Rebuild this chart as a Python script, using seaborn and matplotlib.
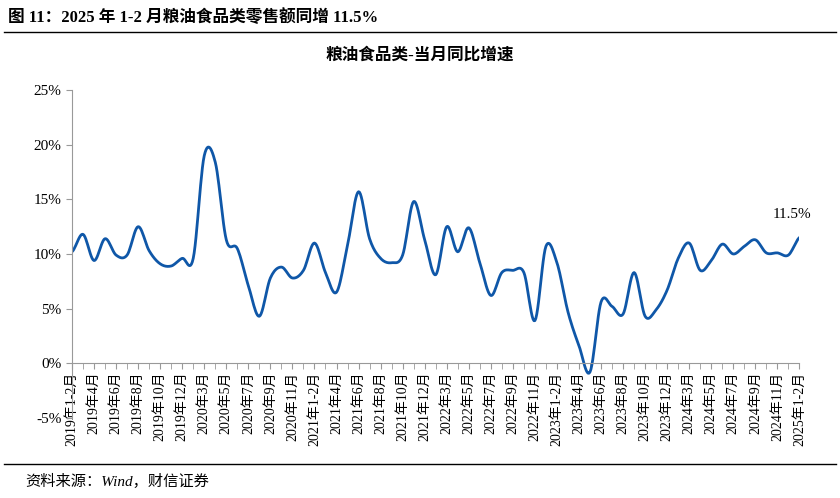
import numpy as np
import pandas as pd
import matplotlib
matplotlib.use("Agg")
import matplotlib.pyplot as plt
import seaborn as sns

plt.rcParams["font.family"] = ["Liberation Serif", "Noto Sans CJK SC"]

# months: Jan-Feb combined each year
months = []
for y in range(2019, 2025):
    months.append(f"{y}年1-2月")
    for m in range(3, 13):
        months.append(f"{y}年{m}月")
months.append("2025年1-2月")

values = [10.2, 11.8, 9.4, 11.4, 9.9, 9.9, 12.5, 10.3, 9.1, 8.9, 9.6,
          9.6, 19.0, 18.4, 11.3, 10.5, 7.1, 4.3, 7.8, 8.8, 7.8, 8.5,
          11.0, 8.3, 6.5, 10.8, 15.7, 11.4, 9.6, 9.2, 9.9, 14.8, 11.3,
          8.1, 12.5, 10.2, 12.4, 9.2, 6.2, 8.3, 8.5, 8.3, 3.9, 10.7,
          9.2, 4.7, 1.6, -0.8, 5.6, 5.2, 4.5, 8.3, 4.3, 4.9, 6.7,
          9.6, 11.0, 8.5, 9.4, 10.9, 10.0, 10.7, 11.3, 10.1, 10.1, 9.9,
          11.5]
yticks = [-5, 0, 5, 10, 15, 20, 25]

# smooth display curve (Catmull-Rom through the data points)
p = np.array(values, dtype=float)
ext = np.concatenate([[p[0]], p, [p[-1]]])
xs, ys = [], []
for i in range(len(p) - 1):
    p0, p1, p2, p3 = ext[i], ext[i + 1], ext[i + 2], ext[i + 3]
    t = np.linspace(0, 1, 12, endpoint=False)
    yv = 0.5 * ((2 * p1) + (-p0 + p2) * t + (2 * p0 - 5 * p1 + 4 * p2 - p3) * t**2
                + (-p0 + 3 * p1 - 3 * p2 + p3) * t**3)
    xs.extend(i + t); ys.extend(yv)
xs.append(len(p) - 1); ys.append(p[-1])
df = pd.DataFrame({"x": xs, "y": ys})

fig = plt.figure(figsize=(8.4, 4.98), dpi=100)
ax = fig.add_axes([0.0857, 0.161, 0.866, 0.658])
sns.lineplot(data=df, x="x", y="y", ax=ax, color="#0F57A8", linewidth=2.0, sort=False)

ax.set_xlim(0, len(p) - 1)
ax.set_ylim(-5, 25)
ax.set_yticks(yticks)
ax.set_yticklabels([f"{v}%" for v in yticks], fontsize=11)
ax.set_xticks(range(0, len(p), 2))
ax.set_xticklabels(months[::2], fontsize=9.5)
ax.set_xticks(range(len(p)), minor=True)
ax.tick_params(axis="x", which="both", direction="out", length=4, color="#999999", pad=2,
               labelrotation=90)
ax.tick_params(axis="y", length=4, color="#999999")
for lab in ax.get_xticklabels():
    lab.set_rotation(90)
    lab.set_va("top")
    lab.set_ha("center")
ax.set_xlabel(""); ax.set_ylabel("")
for s in ["top", "right"]:
    ax.spines[s].set_visible(False)
ax.spines["bottom"].set_position(("data", 0))
ax.spines["bottom"].set_color("#999999")
ax.spines["left"].set_color("#999999")
ax.annotate("11.5%", (len(p) - 1, p[-1]), xytext=(-5, 14), textcoords="offset points",
            ha="center", fontsize=11)

fig.text(0.5, 0.88, "粮油食品类-当月同比增速", ha="center", fontsize=12, fontweight="bold")
fig.text(0.01, 0.965, "图 11：2025 年 1-2 月粮油食品类零售额同增 11.5%", fontsize=12,
         fontweight="bold", va="center")
fig.add_artist(plt.Line2D([0.005, 0.995], [0.935, 0.935], color="black", linewidth=1))
fig.add_artist(plt.Line2D([0.005, 0.995], [0.068, 0.068], color="black", linewidth=1))
fig.text(0.03, 0.033, "资料来源：Wind，财信证券", fontsize=11, style="italic", va="center")

fig.savefig("out.png", dpi=100)
